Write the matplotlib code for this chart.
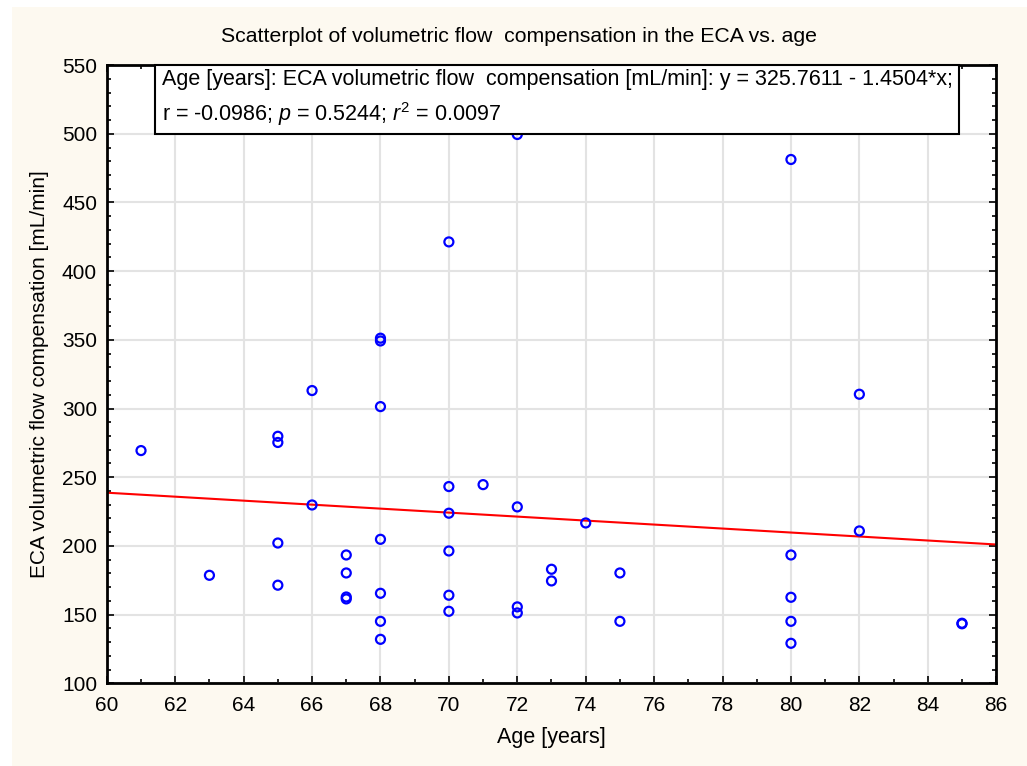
import numpy as np
import matplotlib
matplotlib.use("Agg")
import matplotlib.pyplot as plt
from matplotlib.ticker import MultipleLocator
from matplotlib.patches import Rectangle

# data
age = [61, 63,
       65, 65, 65, 65,
       66, 66,
       67, 67, 67, 67,
       68, 68, 68, 68, 68, 68, 68,
       70, 70, 70, 70, 70, 70,
       71,
       72, 72, 72, 72,
       73, 73,
       74,
       75, 75,
       80, 80, 80, 80, 80,
       82, 82,
       85, 85]
flow = [269.4, 178.6,
        279.8, 275.3, 202.1, 171.4,
        313.1, 229.8,
        193.4, 180.3, 162.8, 161.4,
        351.2, 349.2, 301.4, 204.8, 165.5, 145.1, 132.0,
        421.3, 243.2, 223.8, 196.3, 164.1, 152.4,
        244.6,
        499.5, 228.4, 155.6, 151.2,
        183.0, 174.5,
        216.7,
        180.3, 145.1,
        481.3, 193.4, 162.6, 145.1, 129.1,
        310.4, 210.9,
        143.7, 143.3]

intercept = 325.7611
slope = -1.4504

bg = "#fdf9f0"
plt.rcParams["font.family"] = ["Liberation Sans", "DejaVu Sans"]
plt.rcParams["mathtext.fontset"] = "custom"
plt.rcParams["mathtext.it"] = "Liberation Sans:italic"
plt.rcParams["mathtext.rm"] = "Liberation Sans"

fig = plt.figure(figsize=(10.27, 7.66), dpi=100, facecolor="white")
# cream panel, with a thin white strip on the left and top
fig.patches.append(Rectangle((12 / 1027, -0.1), 1.2, 1.1 - 7 / 766,
                             transform=fig.transFigure,
                             facecolor=bg, edgecolor="none", zorder=-10))

ax = fig.add_axes([0.104, 0.108, 0.866, 0.807])
ax.set_facecolor("white")

ax.grid(True, color="#e3e3e3", linewidth=1.5, zorder=0)
ax.set_axisbelow(True)

ax.scatter(age, flow, s=42, facecolors="none", edgecolors="#0000ff",
           linewidths=1.6, zorder=3)

xl = np.array([60, 86])
ax.plot(xl, intercept + slope * xl, color="#ff0000", lw=1.5, zorder=2)

ax.set_xlim(60, 86)
ax.set_ylim(100, 550)
ax.xaxis.set_major_locator(MultipleLocator(2))
ax.xaxis.set_minor_locator(MultipleLocator(1))
ax.yaxis.set_major_locator(MultipleLocator(50))
ax.yaxis.set_minor_locator(MultipleLocator(10))
ax.tick_params(which="both", direction="in", top=True, right=True,
               labelsize=15, width=1.2, color="black")
ax.tick_params(which="major", length=5)
ax.tick_params(axis="y", which="major", pad=7)
ax.tick_params(axis="x", which="major", pad=9)
ax.tick_params(which="minor", length=3)
for s in ax.spines.values():
    s.set_linewidth(2)

ax.set_xlabel("Age [years]", fontsize=15.5, labelpad=9)
ax.set_ylabel("ECA volumetric flow compensation [mL/min]", fontsize=15, labelpad=9)

fig.text(0.505, 0.952, "Scatterplot of volumetric flow  compensation in the ECA vs. age",
         ha="center", va="center", fontsize=15.3)

txt = ("Age [years]: ECA volumetric flow  compensation [mL/min]: y = 325.7611 - 1.4504*x;\n"
       "r = -0.0986; $\\mathit{p}$ = 0.5244; $\\mathit{r}^2$ = 0.0097")
ax.text(0.062, 0.993, txt, transform=ax.transAxes, ha="left", va="top",
        fontsize=15.5, linespacing=1.45, zorder=5,
        bbox=dict(boxstyle="square,pad=0.3", facecolor="white",
                  edgecolor="black", linewidth=1.5))

fig.savefig("out.png", dpi=100, facecolor=fig.get_facecolor())
